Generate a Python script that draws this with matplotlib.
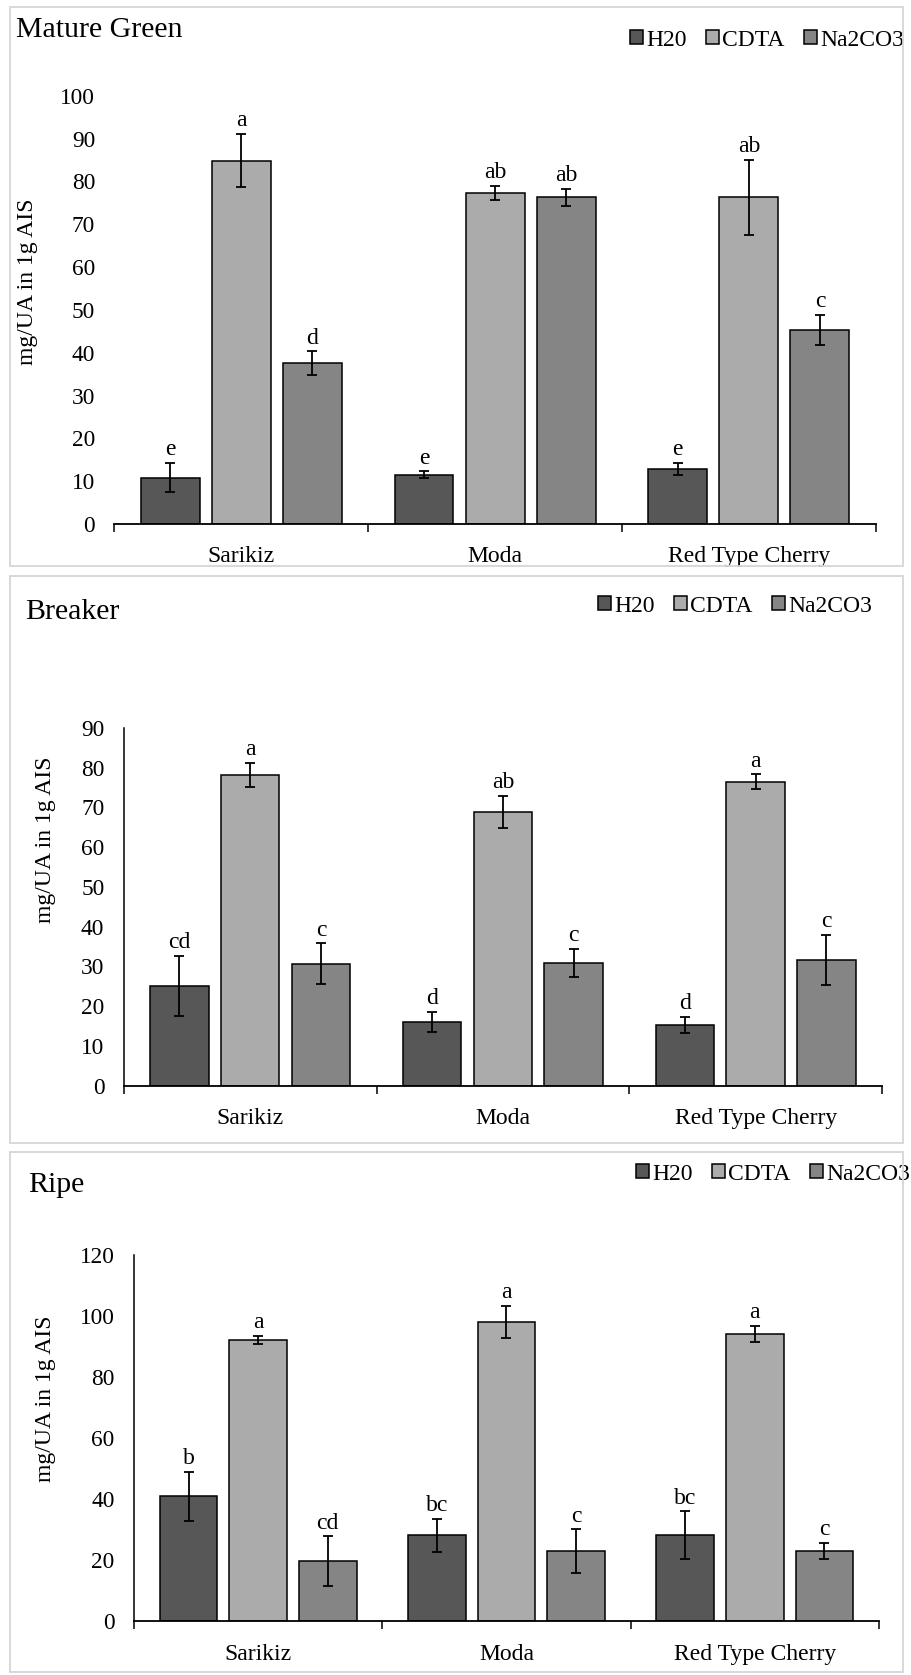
import matplotlib
import matplotlib.pyplot as plt
from matplotlib.patches import Rectangle

matplotlib.rcParams['font.family'] = ['Liberation Serif', 'DejaVu Serif']

# data
varieties = ['Sarikiz', 'Moda', 'Red Type Cherry']
solvents = ['H20', 'CDTA', 'Na2CO3']

# Mature Green
mg_h20 = [10.8, 11.5, 12.9]
mg_h20_err = [3.4, 0.8, 1.4]
mg_cdta = [84.8, 77.3, 76.3]
mg_cdta_err = [6.2, 1.7, 8.8]
mg_na = [37.5, 76.3, 45.3]
mg_na_err = [2.8, 2.0, 3.6]
mg_letters = [['e', 'e', 'e'], ['a', 'ab', 'ab'], ['d', 'ab', 'c']]

# Breaker
br_h20 = [25.1, 16.1, 15.3]
br_h20_err = [7.5, 2.5, 2.0]
br_cdta = [78.2, 68.9, 76.5]
br_cdta_err = [3.0, 4.0, 1.8]
br_na = [30.7, 30.9, 31.6]
br_na_err = [5.1, 3.6, 6.3]
br_letters = [['cd', 'd', 'd'], ['a', 'ab', 'a'], ['c', 'c', 'c']]

# Ripe
rp_h20 = [41.0, 28.3, 28.3]
rp_h20_err = [8.0, 5.4, 7.8]
rp_cdta = [92.3, 98.1, 94.3]
rp_cdta_err = [1.4, 5.3, 2.7]
rp_na = [19.7, 23.0, 23.2]
rp_na_err = [8.2, 7.2, 2.6]
rp_letters = [['b', 'bc', 'bc'], ['a', 'a', 'a'], ['cd', 'c', 'c']]

colors = ['#575757', '#ababab', '#858585']

W, H = 911, 1675
fig = plt.figure(figsize=(W / 100, H / 100), dpi=100)


def px_box(x0, y0, x1, y1):
    # pixel box (top-left origin) -> figure fraction [l, b, w, h]
    return [x0 / W, 1 - y1 / H, (x1 - x0) / W, (y1 - y0) / H]


def panel(box, frame, title, title_xy, legend_xy, ylabel_xy, ymax, ystep,
          vals, errs, letters, left_spine):
    # panel frame
    fx0, fy0, fx1, fy1 = frame
    fig.patches.append(Rectangle((fx0 / W, 1 - fy1 / H), (fx1 - fx0) / W, (fy1 - fy0) / H,
                                 transform=fig.transFigure, fill=False,
                                 edgecolor='#d6d6d6', linewidth=1.3))
    ax = fig.add_axes(px_box(*box))
    x = range(len(varieties))
    offs = [-0.28, 0, 0.28]
    for i in range(3):
        xs = [k + offs[i] for k in x]
        ax.bar(xs, vals[i], width=0.232, color=colors[i], edgecolor='black',
               linewidth=1.1, label=solvents[i], zorder=2)
        ax.errorbar(xs, vals[i], yerr=errs[i], fmt='none', ecolor='black',
                    elinewidth=1.3, capsize=3.5, capthick=1.3, zorder=3)
        for k in range(3):
            ax.annotate(letters[i][k], (xs[k], vals[i][k] + errs[i][k]),
                        xytext=(0, 2), textcoords='offset points',
                        ha='center', va='bottom', fontsize=17)
    ax.set_xlim(-0.5, 2.5)
    ax.set_ylim(0, ymax)
    ax.set_yticks(range(0, ymax + 1, ystep))
    ax.tick_params(axis='y', length=0, labelsize=16.8, pad=14)
    ax.set_xticks(list(x))
    ax.set_xticklabels(varieties)
    ax.set_xticks([-0.5, 0.5, 1.5, 2.5], minor=True)
    ax.tick_params(axis='x', which='major', length=0, labelsize=17, pad=16)
    ax.tick_params(axis='x', which='minor', length=6, width=1.1, direction='out')
    for s in ['top', 'right']:
        ax.spines[s].set_visible(False)
    ax.spines['left'].set_visible(left_spine)
    ax.spines['bottom'].set_linewidth(1.3)
    ax.spines['left'].set_linewidth(1.1)

    fig.text(title_xy[0] / W, 1 - title_xy[1] / H, title, fontsize=21.5,
             ha='left', va='center')
    fig.text(ylabel_xy[0] / W, 1 - ylabel_xy[1] / H, 'mg/UA in 1g AIS', fontsize=17,
             rotation=90, ha='center', va='center')
    ax.legend(loc='center left', bbox_to_anchor=(legend_xy[0] / W, 1 - legend_xy[1] / H),
              bbox_transform=fig.transFigure, ncol=3, frameon=False, fontsize=17,
              handlelength=0.55, handleheight=0.55, handletextpad=0.15,
              columnspacing=0.8, borderpad=0, borderaxespad=0)
    return ax


panel((114.5, 95.7, 875.7, 524), (10, 7, 903, 566), 'Mature Green', (16, 30), (630, 40),
      (28, 282), 100, 10,
      [mg_h20, mg_cdta, mg_na], [mg_h20_err, mg_cdta_err, mg_na_err], mg_letters, False)
panel((123.8, 727.9, 882, 1085.7), (10, 576, 903, 1143), 'Breaker', (25, 612), (598, 606),
      (46, 840), 90, 10,
      [br_h20, br_cdta, br_na], [br_h20_err, br_cdta_err, br_na_err], br_letters, True)
panel((134, 1255.4, 879, 1621.4), (10, 1152, 903, 1672), 'Ripe', (28, 1185), (636, 1174),
      (46, 1399), 120, 20,
      [rp_h20, rp_cdta, rp_na], [rp_h20_err, rp_cdta_err, rp_na_err], rp_letters, True)

fig.savefig('out.png', dpi=100)
